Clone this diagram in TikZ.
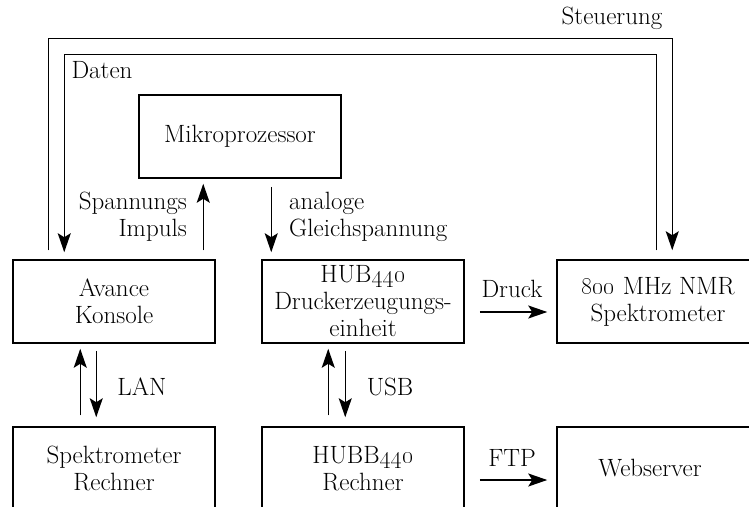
\documentclass[tikz,border=0pt]{standalone}
\usetikzlibrary{arrows.meta}
\begin{document}
\begin{tikzpicture}[x=1pt,y=-1pt,
  every node/.style={font=\fontsize{25}{27}\selectfont},
  box/.style={draw, line width=1.5pt, minimum width=202pt, minimum height=83pt, align=center, inner sep=0pt},
  lbl/.style={inner sep=0pt},
  arr/.style={line width=1.5pt, -{Stealth[length=19pt,width=13pt,inset=4pt]}}]
\useasboundingbox (0,0) rectangle (749,506);
\clip (0,0) rectangle (749,506);
% boxes
\node[box] (mp) at (240,136.5) {Mikroprozessor};
\node[box] (av) at (114,301.5) {Avance\\Konsole};
\node[box] (hub) at (363,301.5) {HUB\oldstylenums{440}\\Druckerzeugungs-\\einheit};
\node[box] (nmr) at (658,301.5) {\oldstylenums{800} MHz NMR\\Spektrometer};
\node[box] (sr) at (114,468.5) {Spektrometer\\Rechner};
\node[box] (hubb) at (363,468.5) {HUBB\oldstylenums{440}\\Rechner};
\node[box] (web) at (658,468.5) {Webserver\hspace*{16pt}};
% Steuerung / Daten loops
\draw[arr] ([xshift=36pt,yshift=9pt]av.north west) -- ++(0,-212) -| ([xshift=116pt,yshift=9pt]nmr.north west);
\draw[arr] ([xshift=100pt,yshift=9pt]nmr.north west) -- ++(0,-196) -| ([xshift=52pt,yshift=7pt]av.north west);
\node[lbl] (steu) at (612,18) {Steuerung};
\node[lbl] (daten) at (102,70) {Daten};
% Mikroprozessor links
\draw[arr] ([xshift=191pt,yshift=9pt]av.north west) -- ([xshift=65pt,yshift=-5pt]mp.south west);
\draw[arr] ([xshift=133pt,yshift=-8pt]mp.south west) -- ([xshift=10pt,yshift=7pt]hub.north west);
\node[lbl, align=right, anchor=east] (spi) at (187,216.5) {Spannungs\\Impuls};
\node[lbl, align=left, anchor=west] (agl) at (289,216.5) {analoge\\Gleichspannung};
% LAN
\draw[arr] ([xshift=68pt,yshift=11pt]sr.north west) -- ([xshift=68pt,yshift=-5pt]av.south west);
\draw[arr] ([xshift=84pt,yshift=-7pt]av.south west) -- ([xshift=84pt,yshift=9pt]sr.north west);
\node[lbl] (lan) at (142,387) {LAN};
% USB
\draw[arr] ([xshift=67pt,yshift=11pt]hubb.north west) -- ([xshift=67pt,yshift=-5pt]hub.south west);
\draw[arr] ([xshift=84pt,yshift=-7pt]hub.south west) -- ([xshift=84pt,yshift=9pt]hubb.north west);
\node[lbl] (usb) at (390,387) {USB};
% Druck / FTP
\draw[arr] ([xshift=15pt,yshift=-10.5pt]hub.east) -- ([xshift=-9pt,yshift=-10.5pt]nmr.west);
\node[lbl] (druck) at (512,289) {Druck};
\draw[arr] ([xshift=15pt,yshift=-11.5pt]hubb.east) -- ([xshift=-9pt,yshift=-11.5pt]web.west);
\node[lbl] (ftp) at (512,458) {FTP};
\end{tikzpicture}
\end{document}
